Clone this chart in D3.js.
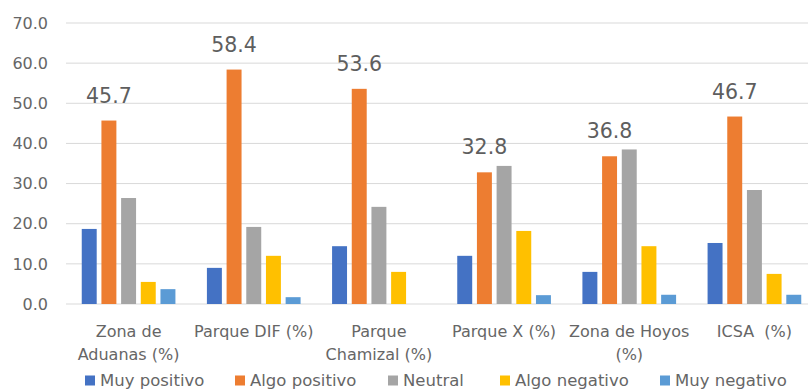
<!DOCTYPE html>
<html>
<head>
<meta charset="utf-8">
<script src="https://cdn.jsdelivr.net/npm/d3@7"></script>
<style>
  html, body { margin: 0; padding: 0; background: #fff; }
  svg { display: block; font-family: "DejaVu Sans", sans-serif; }
  text { white-space: pre; }
</style>
</head>
<body>
<svg id="chart" width="808" height="389"></svg>
<script>
// Parks and zones surveyed
const categories = [
  ["Zona de", "Aduanas (%)"],
  ["Parque DIF (%)"],
  ["Parque", "Chamizal (%)"],
  ["Parque X (%)"],
  ["Zona de Hoyos", "(%)"],
  ["ICSA  (%)"]
];

const seriesNames = ["Muy positivo", "Algo positivo", "Neutral", "Algo negativo", "Muy negativo"];
const seriesColors = ["#4472C4", "#ED7D31", "#A5A5A5", "#FFC000", "#5B9BD5"];

// Percent of responses per category, one array per series
const muyPositivo  = [18.7,  9.0, 14.4, 12.0,  8.0, 15.2];
const algoPositivo = [45.7, 58.4, 53.6, 32.8, 36.8, 46.7];
const neutral      = [26.4, 19.2, 24.2, 34.4, 38.5, 28.4];
const algoNegativo = [ 5.5, 12.0,  8.0, 18.2, 14.4,  7.5];
const muyNegativo  = [ 3.7,  1.7,  0.0,  2.2,  2.3,  2.3];

const yTicks = [0, 10, 20, 30, 40, 50, 60, 70];

const seriesValues = [muyPositivo, algoPositivo, neutral, algoNegativo, muyNegativo];

const svg = d3.select("#chart");
const catIds = categories.map((c, i) => i);

const x0 = d3.scaleBand().domain(catIds).range([66, 817]).padding(0);
const x1 = d3.scaleBand().domain(d3.range(seriesNames.length))
  .range([0, x0.bandwidth()]).paddingInner(0.24).paddingOuter(0.8);
const y = d3.scaleLinear().domain([0, 70]).range([304, 23]);

const textColor = "#666666";

// Gridlines and y labels
const yAxis = svg.append("g");
yAxis.selectAll("line").data(yTicks).join("line")
  .attr("x1", 66).attr("x2", 808)
  .attr("y1", d => y(d)).attr("y2", d => y(d))
  .attr("stroke", "#d9d9d9").attr("stroke-width", 1);
yAxis.selectAll("text").data(yTicks).join("text")
  .attr("x", 48).attr("y", d => y(d))
  .attr("dy", "0.36em").attr("text-anchor", "end")
  .attr("font-size", 16).attr("fill", textColor)
  .text(d => d3.format(".1f")(d));

// Bars
const groups = svg.append("g").selectAll("g").data(catIds).join("g")
  .attr("transform", i => `translate(${x0(i)},0)`);
groups.selectAll("rect")
  .data(i => seriesValues.map((vals, s) => ({ s, v: vals[i] })))
  .join("rect")
  .attr("x", d => x1(d.s))
  .attr("width", x1.bandwidth())
  .attr("y", d => y(d.v))
  .attr("height", d => y(0) - y(d.v))
  .attr("fill", d => seriesColors[d.s]);

// Value labels over the "Algo positivo" bars
groups.append("text")
  .attr("x", x1(1) + x1.bandwidth() / 2)
  .attr("y", i => y(algoPositivo[i]) - 18)
  .attr("text-anchor", "middle")
  .attr("font-size", 20.5).attr("fill", "#5e5e5e")
  .text(i => algoPositivo[i].toFixed(1));

// Category labels
groups.append("text")
  .attr("text-anchor", "middle")
  .attr("font-size", 16).attr("fill", textColor)
  .selectAll("tspan").data(i => categories[i]).join("tspan")
  .attr("x", x0.bandwidth() / 2)
  .attr("y", (d, k) => 337 + k * 23)
  .text(d => d);

// Legend
const legendX = [85, 235, 388, 500, 660];
const legend = svg.append("g").selectAll("g").data(seriesNames).join("g")
  .attr("transform", (d, k) => `translate(${legendX[k]},380.5)`);
legend.append("rect")
  .attr("x", 0).attr("y", -5).attr("width", 10).attr("height", 10)
  .attr("fill", (d, k) => seriesColors[k]);
legend.append("text")
  .attr("x", 15).attr("y", 5)
  .attr("font-size", 16.5).attr("fill", textColor)
  .text(d => d);
</script>
</body>
</html>
